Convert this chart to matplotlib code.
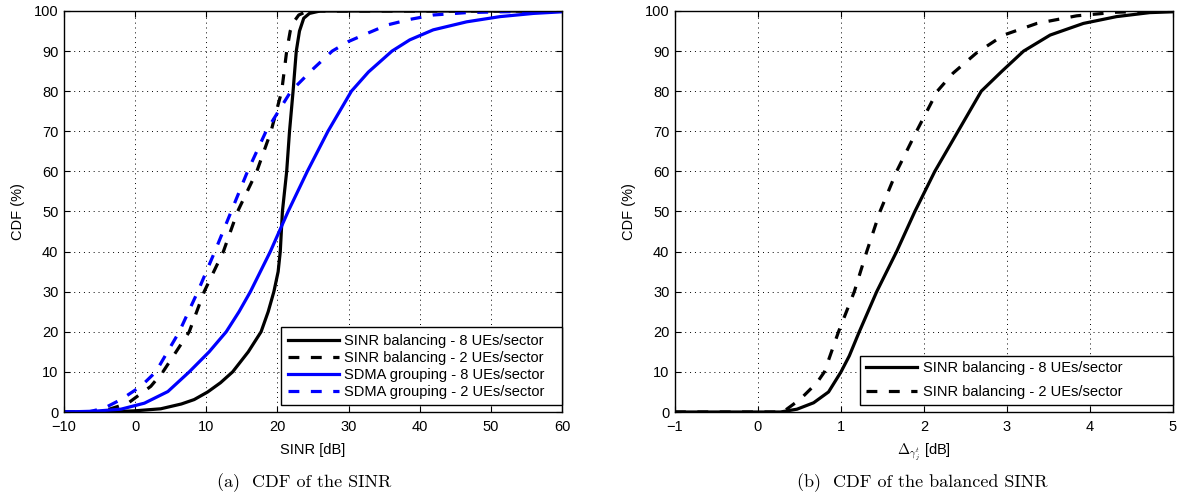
import matplotlib
matplotlib.use("Agg")
import matplotlib.pyplot as plt

plt.rcParams['font.family'] = ['Liberation Sans', 'DejaVu Sans']
plt.rcParams['mathtext.fontset'] = 'cm'

# (a) CDF of the SINR  -- x in dB, y in %
bal8_x = [-10, -4, 0, 3.6, 6.5, 8.3, 10.2, 12.0, 13.7, 15.9, 17.7, 18.7, 19.5, 20.1, 20.4, 20.7, 21.3, 21.7, 22.2, 22.65, 23.1, 23.7, 24.5, 26, 60]
bal8_y = [0, 0, 0.3, 0.8, 2.0, 3.1, 5, 7.3, 10, 15, 20, 25, 30, 35, 40, 50, 60, 70, 80, 90, 95, 98.2, 99.4, 100, 100]

bal2_x = [-10, -5.7, -3.8, -1.0, 2.2, 3.9, 7.6, 9.7, 12.4, 14.4, 17.1, 19.1, 20.6, 21.3, 21.8, 22.3, 23.0, 24.0, 26.0, 60]
bal2_y = [0, 0, 0.6, 2.2, 6.4, 10, 20, 30, 40, 50, 60, 70, 80, 90, 95, 97.3, 99.0, 99.8, 100, 100]

sdma8_x = [-10, -5.7, -2.0, 1.3, 4.6, 7.6, 10.4, 12.8, 14.6, 16.2, 19.0, 21.5, 24.2, 27.1, 30.4, 32.8, 36.1, 38.6, 41.9, 46.6, 51.3, 56, 60]
sdma8_y = [0, 0.2, 0.7, 2.2, 5.1, 10, 15, 20, 25, 30, 40, 50, 60, 70, 80, 84.8, 90, 92.8, 95.3, 97.3, 98.6, 99.4, 99.8]

sdma2_x = [-10, -6.6, -4.3, -2.0, 0.8, 2.9, 6.2, 8.8, 11.2, 13.5, 15.8, 18.4, 21.9, 25.1, 27.7, 30.0, 32.6, 35.4, 38.6, 41.9, 46.6, 51.3, 60]
sdma2_y = [0, 0, 1.0, 3.1, 6.4, 10, 20, 30, 40, 50, 60, 70, 80, 85.7, 90, 92.4, 94.4, 96.5, 97.9, 99, 99.6, 99.8, 100]

# (b) CDF of the balanced SINR
dbal8_x = [-1, 0.27, 0.47, 0.67, 0.85, 1.0, 1.1, 1.22, 1.43, 1.67, 1.89, 2.13, 2.41, 2.69, 2.94, 3.2, 3.52, 3.92, 4.32, 4.72, 5.0]
dbal8_y = [0, 0, 0.7, 2.3, 5.0, 10, 14, 20, 30, 40, 50, 60, 70, 80, 85, 90, 94, 96.9, 98.6, 99.6, 99.8]

dbal2_x = [-1, 0.3, 0.51, 0.71, 0.8, 0.97, 1.16, 1.31, 1.47, 1.67, 1.91, 2.16, 2.35, 2.63, 2.96, 3.36, 3.84, 4.32, 4.72, 5.0]
dbal2_y = [0, 0, 3.2, 7.3, 10, 20, 30, 40, 50, 60, 70, 80, 84.5, 89.5, 94, 96.9, 98.8, 99.7, 99.9, 100]

left_labels = ['SINR balancing - 8 UEs/sector', 'SINR balancing - 2 UEs/sector',
               'SDMA grouping - 8 UEs/sector', 'SDMA grouping - 2 UEs/sector']

W, H = 1193, 499
fig = plt.figure(figsize=(W / 100, H / 100), dpi=100)
ax1 = fig.add_axes([64 / W, 87 / H, 498 / W, 401 / H])
ax2 = fig.add_axes([675 / W, 87 / H, 498 / W, 401 / H])

lw = 2.3
dash = (0, (3.4, 3.6))

ax1.plot(bal8_x, bal8_y, color='black', lw=lw, label=left_labels[0])
ax1.plot(bal2_x, bal2_y, color='black', lw=lw, ls=dash, label=left_labels[1])
ax1.plot(sdma8_x, sdma8_y, color='blue', lw=lw, label=left_labels[2])
ax1.plot(sdma2_x, sdma2_y, color='blue', lw=lw, ls=dash, label=left_labels[3])
ax1.set_xlim(-10, 60)
ax1.set_xticks(range(-10, 61, 10))
ax1.set_xlabel('SINR [dB]', fontsize=10.5, labelpad=6)

ax2.plot(dbal8_x, dbal8_y, color='black', lw=lw, label=left_labels[0])
ax2.plot(dbal2_x, dbal2_y, color='black', lw=lw, ls=dash, label=left_labels[1])
ax2.set_xlim(-1, 5)
ax2.set_xticks(range(-1, 6))
ax2.set_xlabel(r'$\Delta_{\gamma_j^t}$ [dB]', fontsize=10.5, labelpad=5)

for ax in (ax1, ax2):
    ax.set_ylim(0, 100)
    ax.set_yticks(range(0, 101, 10))
    ax.set_ylabel('CDF (%)', fontsize=10.5, labelpad=6)
    ax.grid(True, color='black', lw=0.7, ls=(0, (1, 4)))
    ax.tick_params(direction='in', top=True, right=True, length=4, labelsize=10.5)
    ax.tick_params(axis='x', pad=6)
    ax.tick_params(axis='y', pad=4)
    for s in ax.spines.values():
        s.set_linewidth(1.0)

leg1 = ax1.legend(loc='lower left', bbox_to_anchor=(0.4357, 0.017, 0.5643, 0.2), mode='expand',
                  fontsize=10.5, handlelength=3.5, labelspacing=0.2, borderpad=0.45,
                  handletextpad=0.4, borderaxespad=0.0, fancybox=False, framealpha=1,
                  edgecolor='black')
leg2 = ax2.legend(loc='lower left', bbox_to_anchor=(0.3715, 0.017, 0.6285, 0.2), mode='expand',
                  fontsize=10.5, handlelength=3.5, labelspacing=0.68, borderpad=0.4,
                  handletextpad=0.4, borderaxespad=0.0, fancybox=False, framealpha=1,
                  edgecolor='black')
for leg in (leg1, leg2):
    leg.get_frame().set_linewidth(1.0)

fig.text(304 / W, 1 - 483 / H, '(a)  CDF of the SINR', family='cmr10', fontsize=13,
         ha='center', va='center')
fig.text(922 / W, 1 - 483 / H, '(b)  CDF of the balanced SINR', family='cmr10', fontsize=13,
         ha='center', va='center')

fig.savefig('out.png', dpi=100)
